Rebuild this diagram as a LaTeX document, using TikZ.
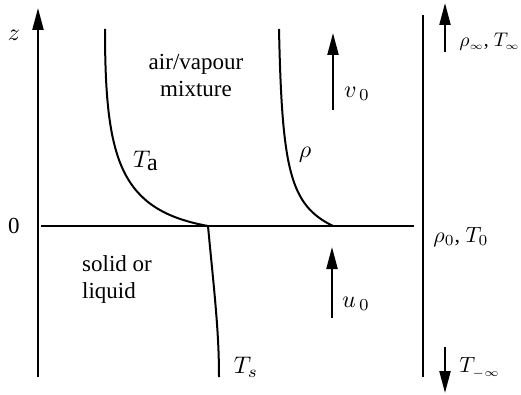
\documentclass[tikz,border=0pt]{standalone}
\usepackage{fontspec}
\setmainfont{Liberation Serif}
\usetikzlibrary{arrows.meta}
\begin{document}
\begin{tikzpicture}[x=1pt,y=-1pt,
  line/.style={line width=2pt},
  curve/.style={line width=2pt},
  bigarrow/.style={line width=2.2pt,-{Triangle[length=22pt,width=11pt]}},
  lab/.style={inner sep=0pt,scale=2.4},
  rlab/.style={inner sep=0pt,scale=2.2},
  inflab/.style={inner sep=0pt,scale=1.97},
  txt/.style={inner sep=0pt,font=\fontsize{23}{27}\selectfont,align=center}]
\useasboundingbox (0,0) rectangle (521,395);
% axes
\coordinate (zb) at (38,377);
\coordinate (zt) at (38,8);
\draw[bigarrow] (zb) -- (zt);
\coordinate (hl) at (41,226);
\coordinate (hr) at (414,226);
\draw[line] (hl) -- (hr);
\coordinate (rt) at (423,15);
\coordinate (rb) at (423,377);
\draw[line] (rt) -- (rb);
% labels on axis
\node[lab] (z) at (14,35) {$z$};
\node[txt] (zero) at (14,226) {0};
% curves
\coordinate (tat) at (105,29);
\coordinate (tam) at (208,226);
\coordinate (tsb) at (219,377);
\draw[curve] (tat) .. controls (105,160) and (120,210) .. (tam);
\draw[curve] (tam) .. controls (214,290) and (219,330) .. (tsb);
\coordinate (rht) at (279,29);
\coordinate (rhb) at (333,226);
\draw[curve] (rht) .. controls (282,170) and (290,205) .. (rhb);
% curve labels
\node[lab] (Ta) at (146,161) {$T_{\textrm{a}}$};
\node[lab] (rho) at (305,155) {$\rho$};
\node[lab] (Ts) at (246,367) {$T_s$};
% region texts
\node[txt] (air) at (196,75) {air/vapour\\mixture};
\node[txt,align=left,anchor=west] (solid) at (82,279) {solid or\\liquid};
% velocity arrows
\coordinate (v0b) at (333,110);
\coordinate (v0t) at (333,33);
\draw[bigarrow] (v0b) -- (v0t);
\node[lab] (v0) at (357,94) {$v_{\,0}$};
\coordinate (u0b) at (332,318);
\coordinate (u0t) at (332,247);
\draw[bigarrow] (u0b) -- (u0t);
\node[lab] (u0) at (356,304) {$u_{\,0}$};
% right side
\coordinate (ia) at (445,52);
\coordinate (ib) at (445,3);
\draw[bigarrow] (ia) -- (ib);
\node[inflab,anchor=west] (inf) at (459,42) {$\rho_{\scriptscriptstyle\infty}$, $T_{\scriptscriptstyle\infty}$};
\node[rlab,anchor=west] (zeroT) at (433,237) {$\rho_0$, $T_0$};
\coordinate (ma) at (445,347);
\coordinate (mb) at (445,393);
\draw[bigarrow] (ma) -- (mb);
\node[rlab,anchor=west] (minf) at (459,368) {$T_{\scriptscriptstyle-\infty}$};
\end{tikzpicture}
\end{document}
